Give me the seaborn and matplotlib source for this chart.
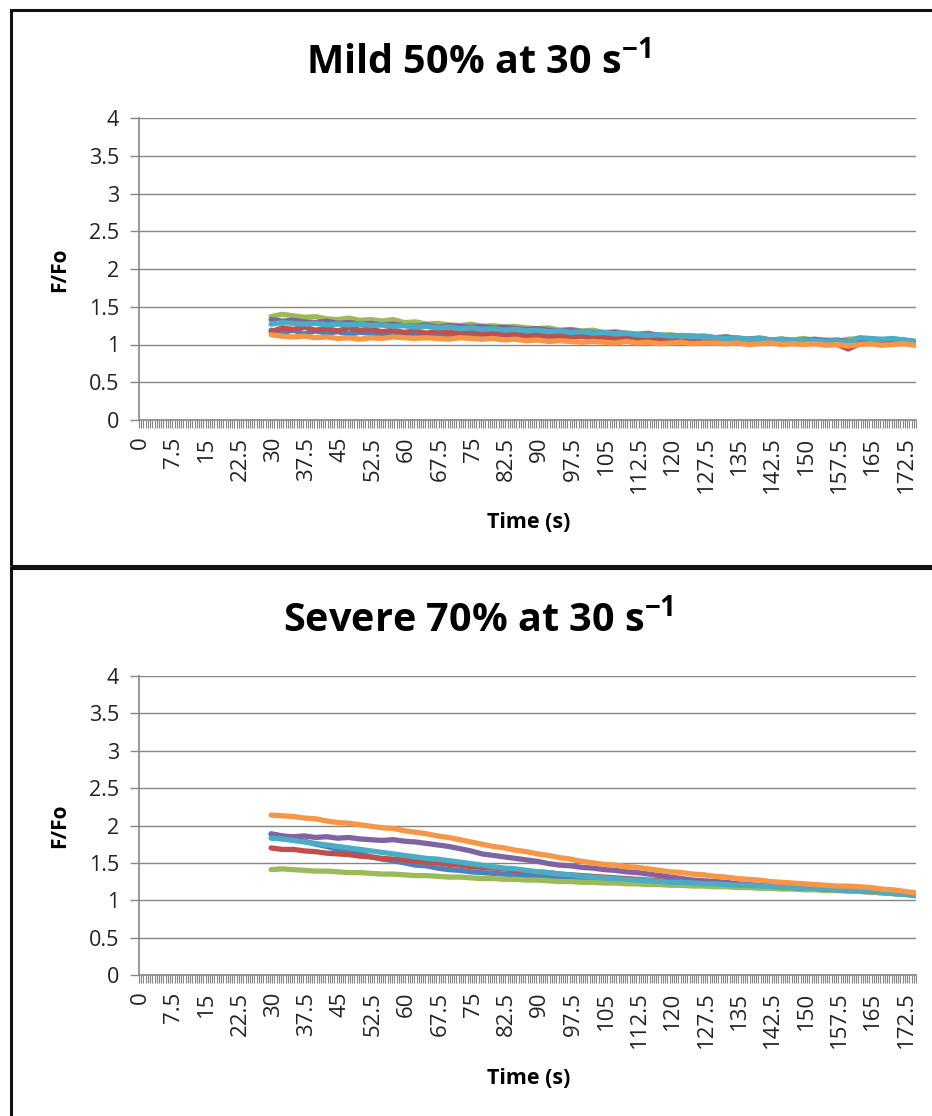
import numpy as np
import pandas as pd
import matplotlib
matplotlib.use("Agg")
import matplotlib.pyplot as plt
import seaborn as sns
from matplotlib.patches import Rectangle

# ---------------- data ----------------
time_s = np.arange(29.5, 174.6, 2.5)  # sample times (s), 59 points

series_names = ["S1", "S2", "S3", "S4", "S5", "S6"]
series_colors = ["#4F81BD", "#C0504D", "#9BBB59", "#8064A2", "#4BACC6", "#F79646"]

mild_blue = [1.19, 1.16, 1.19, 1.14, 1.18, 1.15, 1.17, 1.14, 1.16, 1.15,
             1.13, 1.16, 1.14, 1.15, 1.12, 1.14, 1.13, 1.12, 1.14, 1.11,
             1.12, 1.13, 1.11, 1.12, 1.10, 1.11, 1.09, 1.10, 1.11, 1.08,
             1.09, 1.07, 1.08, 1.06, 1.07, 1.05, 1.06, 1.07, 1.05, 1.06,
             1.04, 1.05, 1.03, 1.06, 1.04, 1.05, 1.03, 1.04, 1.05, 1.03,
             1.04, 1.02, 1.03, 1.05, 1.04, 1.03, 1.05, 1.04, 1.03]
mild_red = [1.17, 1.22, 1.20, 1.23, 1.19, 1.21, 1.18, 1.22, 1.19, 1.20,
            1.17, 1.19, 1.16, 1.18, 1.15, 1.17, 1.16, 1.15, 1.17, 1.14,
            1.15, 1.13, 1.14, 1.12, 1.13, 1.11, 1.12, 1.10, 1.11, 1.09,
            1.10, 1.08, 1.09, 1.07, 1.10, 1.06, 1.07, 1.05, 1.06, 1.07,
            1.05, 1.06, 1.04, 1.07, 1.05, 1.03, 1.04, 1.06, 1.03, 1.04,
            1.02, 1.00, 0.94, 1.01, 1.03, 1.04, 1.06, 1.03, 1.02]
mild_green = [1.37, 1.40, 1.38, 1.36, 1.37, 1.34, 1.33, 1.35, 1.32, 1.33,
              1.31, 1.33, 1.29, 1.30, 1.27, 1.28, 1.26, 1.25, 1.27, 1.24,
              1.25, 1.23, 1.24, 1.22, 1.21, 1.22, 1.19, 1.20, 1.18, 1.19,
              1.16, 1.17, 1.15, 1.14, 1.15, 1.12, 1.13, 1.11, 1.12, 1.10,
              1.09, 1.10, 1.08, 1.07, 1.09, 1.06, 1.07, 1.06, 1.08, 1.05,
              1.06, 1.04, 1.07, 1.08, 1.06, 1.05, 1.07, 1.05, 1.04]
mild_purple = [1.33, 1.31, 1.32, 1.30, 1.29, 1.31, 1.28, 1.29, 1.27, 1.28,
               1.26, 1.27, 1.25, 1.24, 1.26, 1.23, 1.25, 1.24, 1.23, 1.24,
               1.22, 1.23, 1.21, 1.20, 1.21, 1.19, 1.18, 1.19, 1.17, 1.16,
               1.15, 1.16, 1.14, 1.13, 1.14, 1.12, 1.11, 1.12, 1.10, 1.11,
               1.09, 1.10, 1.08, 1.07, 1.08, 1.06, 1.07, 1.05, 1.06, 1.07,
               1.05, 1.06, 1.04, 1.05, 1.06, 1.04, 1.05, 1.06, 1.04]
mild_cyan = [1.27, 1.29, 1.28, 1.27, 1.28, 1.26, 1.27, 1.26, 1.27, 1.25,
             1.26, 1.24, 1.25, 1.23, 1.24, 1.22, 1.23, 1.21, 1.22, 1.20,
             1.21, 1.19, 1.20, 1.18, 1.19, 1.17, 1.18, 1.16, 1.17, 1.15,
             1.16, 1.14, 1.15, 1.13, 1.12, 1.13, 1.11, 1.12, 1.10, 1.11,
             1.09, 1.08, 1.09, 1.07, 1.08, 1.06, 1.07, 1.05, 1.06, 1.05,
             1.04, 1.05, 1.03, 1.09, 1.08, 1.07, 1.08, 1.06, 1.04]
mild_orange = [1.13, 1.11, 1.10, 1.11, 1.09, 1.10, 1.08, 1.09, 1.07, 1.09,
               1.08, 1.10, 1.09, 1.08, 1.09, 1.08, 1.07, 1.09, 1.08, 1.07,
               1.08, 1.06, 1.07, 1.05, 1.06, 1.04, 1.05, 1.04, 1.03, 1.04,
               1.03, 1.02, 1.04, 1.02, 1.03, 1.01, 1.02, 1.03, 1.01, 1.02,
               1.02, 1.01, 1.02, 1.00, 1.01, 1.02, 1.00, 1.01, 1.00, 1.01,
               0.99, 1.00, 0.98, 1.00, 1.01, 0.99, 1.00, 1.01, 0.99]

sev_blue = [1.89, 1.86, 1.82, 1.79, 1.75, 1.72, 1.68, 1.65, 1.62, 1.58,
            1.55, 1.53, 1.50, 1.47, 1.46, 1.43, 1.41, 1.40, 1.38, 1.37,
            1.36, 1.35, 1.34, 1.33, 1.32, 1.32, 1.31, 1.30, 1.30, 1.29,
            1.28, 1.28, 1.27, 1.26, 1.25, 1.25, 1.24, 1.23, 1.23, 1.22,
            1.21, 1.20, 1.20, 1.19, 1.18, 1.18, 1.17, 1.17, 1.16, 1.15,
            1.15, 1.14, 1.13, 1.13, 1.12, 1.11, 1.10, 1.09, 1.08]
sev_red = [1.70, 1.68, 1.68, 1.66, 1.65, 1.63, 1.62, 1.61, 1.59, 1.58,
           1.56, 1.55, 1.54, 1.52, 1.51, 1.50, 1.48, 1.47, 1.45, 1.44,
           1.43, 1.42, 1.40, 1.39, 1.38, 1.37, 1.35, 1.34, 1.33, 1.32,
           1.31, 1.30, 1.29, 1.28, 1.27, 1.26, 1.25, 1.24, 1.24, 1.23,
           1.22, 1.21, 1.21, 1.20, 1.19, 1.18, 1.17, 1.17, 1.16, 1.15,
           1.15, 1.14, 1.13, 1.12, 1.11, 1.10, 1.09, 1.08, 1.07]
sev_green = [1.41, 1.42, 1.41, 1.40, 1.39, 1.39, 1.38, 1.37, 1.37, 1.36,
             1.35, 1.35, 1.34, 1.33, 1.33, 1.32, 1.31, 1.31, 1.30, 1.29,
             1.29, 1.28, 1.28, 1.27, 1.27, 1.26, 1.25, 1.25, 1.24, 1.24,
             1.23, 1.23, 1.22, 1.22, 1.21, 1.21, 1.20, 1.20, 1.19, 1.19,
             1.18, 1.18, 1.17, 1.17, 1.16, 1.16, 1.15, 1.15, 1.14, 1.14,
             1.13, 1.13, 1.12, 1.12, 1.11, 1.10, 1.09, 1.08, 1.07]
sev_purple = [1.88, 1.86, 1.85, 1.86, 1.84, 1.85, 1.83, 1.84, 1.82, 1.81,
              1.80, 1.81, 1.79, 1.78, 1.76, 1.74, 1.72, 1.69, 1.66, 1.62,
              1.60, 1.58, 1.56, 1.54, 1.52, 1.49, 1.47, 1.46, 1.44, 1.43,
              1.41, 1.40, 1.38, 1.37, 1.35, 1.33, 1.31, 1.29, 1.27, 1.26,
              1.25, 1.24, 1.22, 1.21, 1.20, 1.19, 1.18, 1.17, 1.16, 1.16,
              1.15, 1.14, 1.14, 1.13, 1.12, 1.12, 1.11, 1.10, 1.09]
sev_cyan = [1.83, 1.82, 1.80, 1.78, 1.76, 1.74, 1.72, 1.70, 1.68, 1.66,
            1.64, 1.62, 1.60, 1.58, 1.56, 1.55, 1.53, 1.51, 1.49, 1.47,
            1.45, 1.43, 1.42, 1.40, 1.38, 1.37, 1.35, 1.34, 1.32, 1.31,
            1.30, 1.29, 1.28, 1.27, 1.26, 1.25, 1.24, 1.24, 1.23, 1.22,
            1.22, 1.21, 1.20, 1.20, 1.19, 1.18, 1.18, 1.17, 1.16, 1.16,
            1.15, 1.14, 1.13, 1.13, 1.12, 1.11, 1.09, 1.08, 1.06]
sev_orange = [2.14, 2.13, 2.12, 2.10, 2.09, 2.06, 2.04, 2.03, 2.01, 1.99,
              1.97, 1.96, 1.93, 1.91, 1.89, 1.86, 1.84, 1.81, 1.78, 1.75,
              1.72, 1.70, 1.67, 1.65, 1.62, 1.60, 1.57, 1.55, 1.52, 1.50,
              1.48, 1.47, 1.45, 1.44, 1.42, 1.40, 1.38, 1.37, 1.35, 1.34,
              1.32, 1.31, 1.29, 1.28, 1.27, 1.25, 1.24, 1.23, 1.22, 1.21,
              1.20, 1.19, 1.19, 1.18, 1.17, 1.15, 1.14, 1.12, 1.10]

x_tick_values = [0, 7.5, 15, 22.5, 30, 37.5, 45, 52.5, 60, 67.5, 75, 82.5, 90,
                 97.5, 105, 112.5, 120, 127.5, 135, 142.5, 150, 157.5, 165, 172.5]
x_tick_labels = ["0", "7.5", "15", "22.5", "30", "37.5", "45", "52.5", "60",
                 "67.5", "75", "82.5", "90", "97.5", "105", "112.5", "120",
                 "127.5", "135", "142.5", "150", "157.5", "165", "172.5"]
y_tick_values = [0, 0.5, 1, 1.5, 2, 2.5, 3, 3.5, 4]
y_tick_labels = ["0", "0.5", "1", "1.5", "2", "2.5", "3", "3.5", "4"]

panels = [
    ("Mild 50% at 30 s", [mild_blue, mild_red, mild_green, mild_purple, mild_cyan, mild_orange]),
    ("Severe 70% at 30 s", [sev_blue, sev_red, sev_green, sev_purple, sev_cyan, sev_orange]),
]

# ---------------- style ----------------
sns.set_theme(style="white")
plt.rcParams["font.family"] = ["Open Sans", "DejaVu Sans"]
plt.rcParams["mathtext.fontset"] = "custom"
plt.rcParams["mathtext.rm"] = "Open Sans"
plt.rcParams["mathtext.bf"] = "Open Sans:bold"

W, H = 932, 1116
fig = plt.figure(figsize=(W / 100, H / 100), dpi=100)
fig.patch.set_facecolor("white")

def fx(px):
    return px / W

def fy(py):
    return 1 - py / H

# chart area borders
fig.add_artist(Rectangle((fx(11), fy(566)), fx(940) - fx(11), fy(10) - fy(566),
                         transform=fig.transFigure, fill=False, lw=2.2, ec="#111111"))
fig.add_artist(Rectangle((fx(11), fy(1130)), fx(940) - fx(11), fy(568) - fy(1130),
                         transform=fig.transFigure, fill=False, lw=2.2, ec="#111111"))

axes_geom = [(118, 420, 62, 522, 270), (676, 975, 620, 1078, 826)]
grey = "#868686"
minor_ticks = np.arange(-0.25, 174.76, 0.5)

for (title, series), (top, bot, ty, xly, yly) in zip(panels, axes_geom):
    ax = fig.add_axes([fx(139), fy(bot), fx(916) - fx(139), fy(top) - fy(bot)])
    frames = []
    for name, vals in zip(series_names, series):
        frames.append(pd.DataFrame({"time": time_s, "ratio": vals, "series": name}))
    df = pd.concat(frames, ignore_index=True)
    sns.lineplot(data=df, x="time", y="ratio", hue="series",
                 palette=series_colors, linewidth=3.8, legend=False, ax=ax,
                 estimator=None, sort=False)

    ax.set_xlim(-0.25, 174.75)
    ax.set_ylim(0, 4)
    ax.set_yticks(y_tick_values)
    ax.set_yticklabels(y_tick_labels)
    ax.set_xticks(x_tick_values)
    ax.set_xticklabels(x_tick_labels, rotation=90)
    ax.set_xticks(minor_ticks, minor=True)
    ax.tick_params(axis="x", which="major", bottom=True, length=0, pad=12,
                   labelsize=16, colors="#222222")
    ax.tick_params(axis="x", which="minor", bottom=True, length=5.5, width=0.8,
                   color=grey, direction="out")
    ax.tick_params(axis="y", which="major", left=True, length=6.5, width=1, color=grey,
                   pad=8, labelsize=15.5, labelcolor="#222222", direction="out")
    ax.grid(axis="y", color=grey, lw=1.0)
    ax.grid(axis="x", visible=False)
    for s in ["top", "right"]:
        ax.spines[s].set_visible(False)
    for s in ["left", "bottom"]:
        ax.spines[s].set_color(grey)
        ax.spines[s].set_linewidth(1.2)
    ax.set_xlabel("")
    ax.set_ylabel("")
    ax.set_axisbelow(True)

    fig.text(fx(478), fy(ty), title + r"$^{\mathbf{-1}}$", ha="center", va="center",
             fontsize=28.5, fontweight="bold", color="black")
    fig.text(fx(529), fy(xly), "Time (s)", ha="center", va="center",
             fontsize=15.5, fontweight="bold", color="black")
    fig.text(fx(60), fy(yly), "F/Fo", ha="center", va="center", rotation=90,
             fontsize=15, fontweight="bold", color="black")

fig.savefig("out.png", dpi=100, facecolor="white")
